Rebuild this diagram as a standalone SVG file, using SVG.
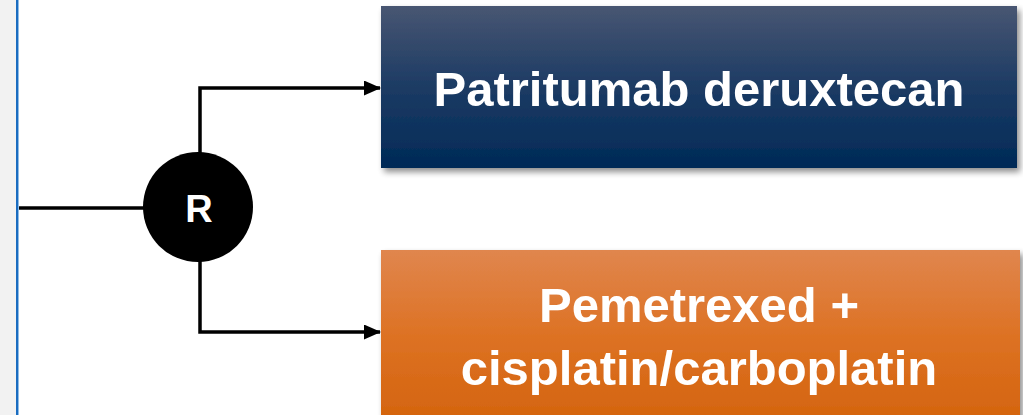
<svg xmlns="http://www.w3.org/2000/svg" width="1023" height="415" viewBox="0 0 1023 415">
  <style>
    .conn { fill: none; stroke: #000; stroke-width: 3.5; }
    .lbl { font-family: "Liberation Sans", Arial, sans-serif; font-weight: bold; fill: #fff; text-anchor: middle; }
  </style>
  <defs>
    <linearGradient id="gNavy" x1="0" y1="0" x2="0" y2="1">
      <stop offset="0" stop-color="#485672"/>
      <stop offset="0.5" stop-color="#1c3b64"/>
      <stop offset="1" stop-color="#002a57"/>
    </linearGradient>
    <linearGradient id="gOrange" x1="0" y1="0" x2="0" y2="1">
      <stop offset="0" stop-color="#e0864e"/>
      <stop offset="0.5" stop-color="#dd7224"/>
      <stop offset="1" stop-color="#d4640e"/>
    </linearGradient>
    <filter id="shadow" x="-5%" y="-5%" width="110%" height="115%">
      <feGaussianBlur in="SourceAlpha" stdDeviation="3"/>
      <feOffset dx="3" dy="4" result="b"/>
      <feComponentTransfer><feFuncA type="linear" slope="0.45"/></feComponentTransfer>
      <feMerge><feMergeNode/><feMergeNode in="SourceGraphic"/></feMerge>
    </filter>
    <marker id="arrow" viewBox="0 0 17 15" refX="16" refY="7.5" markerWidth="17" markerHeight="15" markerUnits="userSpaceOnUse" orient="auto">
      <path d="M0,0 L17,7.5 L0,15 Z" fill="#000"/>
    </marker>
  </defs>

  <!-- page background and left border -->
  <rect x="0" y="0" width="1023" height="415" fill="#fff"/>
  <rect x="0" y="0" width="16" height="415" fill="#f2f2f2"/>
  <line x1="17" y1="0" x2="17" y2="415" stroke="#1a6cc0" stroke-width="2"/>
  <line x1="18.5" y1="0" x2="18.5" y2="415" stroke="#8fbde8" stroke-width="1"/>

  <!-- connectors -->
  <g id="connectors">
    <line class="conn" x1="19" y1="208" x2="145" y2="208"/>
    <polyline class="conn" points="200,155 200,88 380,88" marker-end="url(#arrow)"/>
    <polyline class="conn" points="200,260 200,332 380,332" marker-end="url(#arrow)"/>
  </g>

  <!-- randomisation node -->
  <g id="node-r">
    <circle cx="198" cy="207" r="55" fill="#000"/>
    <text class="lbl" x="199" y="222" font-size="38">R</text>
  </g>

  <!-- arm 1 -->
  <g id="node-patritumab">
    <rect x="381" y="6" width="636" height="162" fill="url(#gNavy)" filter="url(#shadow)"/>
    <text class="lbl" x="699" y="106" font-size="49">Patritumab deruxtecan</text>
  </g>

  <!-- arm 2 -->
  <g id="node-chemo">
    <rect x="381" y="250" width="639" height="170" fill="url(#gOrange)" filter="url(#shadow)"/>
    <text class="lbl" x="699" y="322" font-size="49">Pemetrexed +</text>
    <text class="lbl" x="699" y="385" font-size="49">cisplatin/carboplatin</text>
  </g>
</svg>
